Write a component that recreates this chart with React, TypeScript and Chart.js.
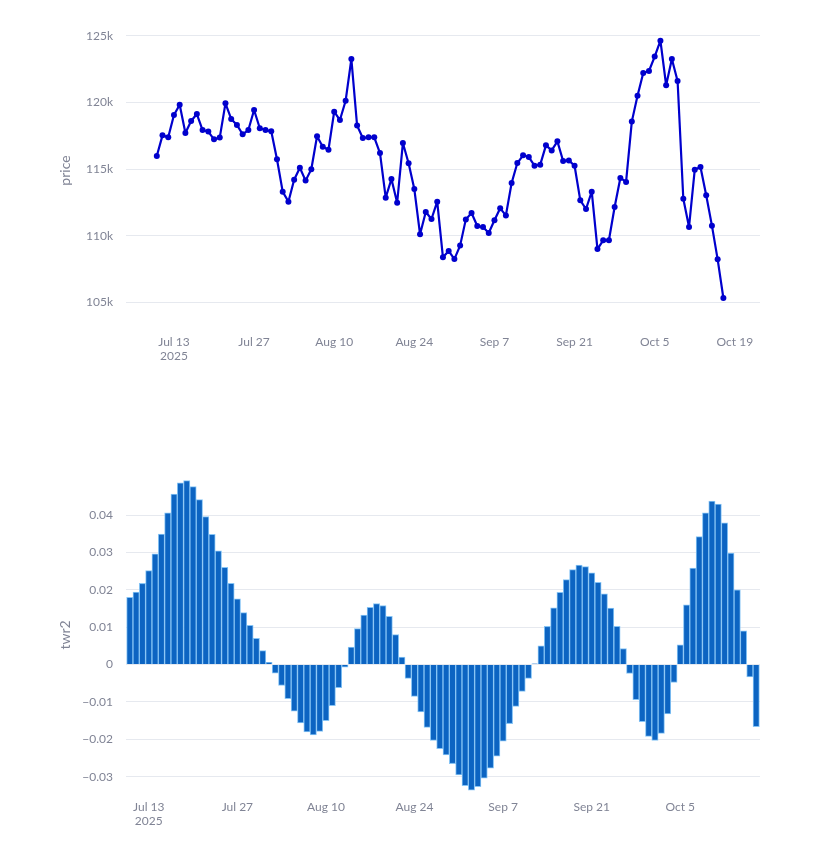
import { useEffect, useRef } from "react"
import { Chart, type ChartConfiguration, registerables } from "chart.js"

Chart.register(...registerables)

// daily series, first day 2025-07-10
const startDate = "2025-07-10"

const priceValues = [
  115990, 117540, 117390, 119070, 119840, 117720, 118620, 119140, 117940, 117820,
  117240, 117370, 119940, 118770, 118320, 117620, 117940, 119440, 118070, 117940,
  117840, 115740, 113310, 112560, 114210, 115110, 114140, 114990, 117470, 116690,
  116460, 119320, 118690, 120140, 123270, 118270, 117340, 117390, 117390, 116210,
  112860, 114260, 112480, 116960, 115440, 113510, 110110, 111780, 111260, 112560,
  108380, 108860, 108250, 109260, 111230, 111710, 110730, 110660, 110210, 111160,
  112060, 111530, 113960, 115460, 116040, 115910, 115260, 115340, 116790, 116410,
  117090, 115610, 115660, 115260, 112660, 112010, 113310, 109000, 109660, 109660,
  112160, 114340, 114040, 118570, 120520, 122220, 122370, 123450, 124650, 121300,
  123270, 121620, 112780, 110660, 114960, 115160, 113040, 110760, 108230, 105330,
]

const twr2Values = [
  0.0180, 0.0194, 0.0217, 0.0251, 0.0296, 0.0349, 0.0406, 0.0456, 0.0486, 0.0492,
  0.0476, 0.0441, 0.0396, 0.0348, 0.0304, 0.0260, 0.0217, 0.0176, 0.0139, 0.0105,
  0.0070, 0.0037, 0.0006, -0.0023, -0.0056, -0.0091, -0.0125, -0.0156, -0.0180, -0.0188,
  -0.0179, -0.0150, -0.0110, -0.0062, -0.0007, 0.0047, 0.0096, 0.0132, 0.0153, 0.0163,
  0.0158, 0.0129, 0.0080, 0.0020, -0.0037, -0.0085, -0.0127, -0.0168, -0.0203, -0.0225,
  -0.0242, -0.0265, -0.0295, -0.0324, -0.0336, -0.0327, -0.0304, -0.0277, -0.0245, -0.0205,
  -0.0158, -0.0112, -0.0072, -0.0037, 0.0002, 0.0050, 0.0102, 0.0152, 0.0193, 0.0227,
  0.0254, 0.0266, 0.0262, 0.0245, 0.0220, 0.0189, 0.0151, 0.0102, 0.0043, -0.0024,
  -0.0094, -0.0153, -0.0192, -0.0203, -0.0184, -0.0132, -0.0048, 0.0053, 0.0160, 0.0258,
  0.0342, 0.0406, 0.0437, 0.0429, 0.0379, 0.0298, 0.0200, 0.0090, -0.0033, -0.0166,
]

const dateTicks = ["2025-07-13", "2025-07-27", "2025-08-10", "2025-08-24", "2025-09-07", "2025-09-21", "2025-10-05", "2025-10-19"]
const dateTickLabels: (string | string[])[] = [["Jul 13", "2025"], "Jul 27", "Aug 10", "Aug 24", "Sep 7", "Sep 21", "Oct 5", "Oct 19"]

const priceTicks = [105000, 110000, 115000, 120000, 125000]
const twr2Ticks = [-0.03, -0.02, -0.01, 0, 0.01, 0.02, 0.03, 0.04]

const DAY = 86400000
const dayOf = (d: string) => Math.round((Date.parse(d) - Date.parse(startDate)) / DAY)
const tickDays = dateTicks.map(dayOf)

const GRAY = "#808495"
const GRID = "#e6e9ef"
const FONT = "Lato, 'Noto Sans', sans-serif"

function xAxis(min: number, max: number, axisHeight: number) {
  const days = tickDays.filter((d) => d >= min && d <= max)
  return {
    type: "linear" as const,
    min,
    max,
    grid: { display: false, drawTicks: false },
    border: { display: false },
    afterBuildTicks: (axis: any) => {
      axis.ticks = days.map((v) => ({ value: v }))
    },
    afterFit: (axis: any) => {
      axis.height = axisHeight
      axis.paddingLeft = 0
      axis.paddingRight = 0
    },
    ticks: {
      autoSkip: false,
      maxRotation: 0,
      padding: 8,
      color: GRAY,
      font: { size: 12, family: FONT },
      callback: (value: any) => dateTickLabels[tickDays.indexOf(Number(value))],
    },
  }
}

function yAxis(min: number, max: number, ticksList: number[], title: string, fmt: (v: number) => string) {
  return {
    min,
    max,
    grid: { color: GRID, drawTicks: false, lineWidth: 1 },
    border: { display: false },
    afterBuildTicks: (axis: any) => {
      axis.ticks = ticksList.map((v) => ({ value: v }))
    },
    afterFit: (axis: any) => {
      axis.width = 69
      axis.paddingTop = 0
      axis.paddingBottom = 0
    },
    ticks: {
      padding: 13,
      color: GRAY,
      font: { size: 12, family: FONT },
      callback: (value: any) => fmt(Number(value)),
    },
    title: {
      display: true,
      text: title,
      color: GRAY,
      padding: 0,
      font: { size: 14, family: FONT },
    },
  }
}

function PriceChart() {
  const canvasRef = useRef<HTMLCanvasElement>(null)
  const chartRef = useRef<Chart | null>(null)

  useEffect(() => {
    if (!canvasRef.current) return
    if (chartRef.current) chartRef.current.destroy()

    const points = priceValues.map((v, i) => ({ x: i, y: v }))

    const config: ChartConfiguration = {
      type: "line",
      data: {
        datasets: [
          {
            label: "price",
            data: points,
            borderColor: "#0000cd",
            backgroundColor: "#0000cd",
            borderWidth: 2.2,
            borderJoinStyle: "round",
            borderCapStyle: "round",
            pointRadius: 3,
            pointBorderWidth: 0,
            pointBackgroundColor: "#0000cd",
            tension: 0,
            fill: false,
          },
        ],
      },
      options: {
        responsive: false,
        animation: false,
        layout: { padding: { left: 57, right: 79, top: 14, bottom: 0 } },
        plugins: { legend: { display: false }, tooltip: { enabled: false } },
        scales: {
          x: xAxis(-5.38, 105.4, 53) as any,
          y: yAxis(103150, 126650, priceTicks, "price", (v) => `${Math.round(v / 1000)}k`) as any,
        },
      },
    }

    chartRef.current = new Chart(canvasRef.current, config)
    return () => {
      if (chartRef.current) {
        chartRef.current.destroy()
        chartRef.current = null
      }
    }
  }, [])

  return <canvas ref={canvasRef} width={839} height={380} style={{ display: "block" }}></canvas>
}

function Twr2Chart() {
  const canvasRef = useRef<HTMLCanvasElement>(null)
  const chartRef = useRef<Chart | null>(null)

  useEffect(() => {
    if (!canvasRef.current) return
    if (chartRef.current) chartRef.current.destroy()

    const bars = twr2Values.map((v, i) => ({ x: i, y: v }))

    const config: ChartConfiguration = {
      type: "bar",
      data: {
        datasets: [
          {
            label: "twr2",
            data: bars,
            backgroundColor: "#0c64c2",
            borderColor: "#86c4f5",
            borderWidth: 1,
            barPercentage: 1,
            categoryPercentage: 1,
          },
        ],
      },
      options: {
        responsive: false,
        animation: false,
        layout: { padding: { left: 57, right: 79, top: 78, bottom: 0 } },
        plugins: { legend: { display: false }, tooltip: { enabled: false } },
        scales: {
          x: { ...xAxis(-0.6, 99.6, 50), offset: false } as any,
          y: yAxis(-0.0341, 0.0499, twr2Ticks, "twr2", (v) =>
            Math.abs(v) < 1e-9 ? "0" : `${v < 0 ? "\u2212" : ""}${Math.abs(v).toFixed(2)}`
          ) as any,
        },
      },
    }

    chartRef.current = new Chart(canvasRef.current, config)
    return () => {
      if (chartRef.current) {
        chartRef.current.destroy()
        chartRef.current = null
      }
    }
  }, [])

  return <canvas ref={canvasRef} width={839} height={442} style={{ display: "block" }}></canvas>
}

export default function App() {
  return (
    <div style={{ position: "absolute", left: 0, top: 0, width: 839, height: 842, background: "#fff" }}>
      <div style={{ position: "absolute", left: 0, top: 0 }}>
        <PriceChart />
      </div>
      <div style={{ position: "absolute", left: 0, top: 400 }}>
        <Twr2Chart />
      </div>
    </div>
  )
}
